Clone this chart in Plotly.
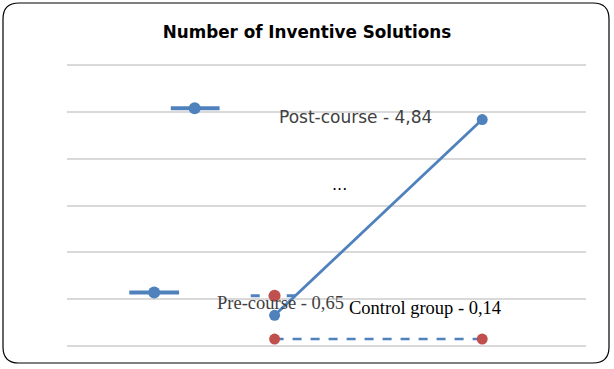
import plotly.graph_objects as go

# Data
stages_x = [2, 4]                 # x positions (pre, post)
experimental = [0.65, 4.84]       # blue line: pre-course -> post-course
control = [0.14, 0.14]            # control group
y_ticks = [0, 1, 2, 3, 4, 5, 6]

# legend-like key samples (in data units)
key_blue_x = [1.0, 1.47]
key_blue_y = [5.08, 5.08]
key_blue2_x = [0.6, 1.08]
key_blue2_y = [1.14, 1.14]
key_ctrl_x = [1.77, 2.2]
key_ctrl_y = [1.07, 1.07]
key_blue_mx = [1.23, 0.84]
key_blue_my = [5.08, 1.14]
key_ctrl_mx = [2.0]
key_ctrl_my = [1.07]

labels = ["Post-course - 4,84", "...", "Pre-course - 0,65", "Control group - 0,14"]
label_x = [2.78, 2.63, 2.06, 3.45]
label_y = [4.89, 3.46, 0.92, 0.81]

BLUE = "#4f81bd"
RED = "#c0504d"

fig = go.Figure()
fig.add_trace(go.Scatter(x=stages_x, y=control, mode="lines+markers",
                         line=dict(color=BLUE, width=2.5, dash="dash"),
                         marker=dict(color=RED, size=11, opacity=1, line=dict(width=0))))
fig.add_trace(go.Scatter(x=stages_x, y=experimental, mode="lines+markers",
                         line=dict(color=BLUE, width=2.8),
                         marker=dict(color=BLUE, size=11, opacity=1, line=dict(width=0))))
fig.add_trace(go.Scatter(x=key_blue_x, y=key_blue_y, mode="lines",
                         line=dict(color=BLUE, width=4)))
fig.add_trace(go.Scatter(x=key_blue2_x, y=key_blue2_y, mode="lines",
                         line=dict(color=BLUE, width=4)))
fig.add_trace(go.Scatter(x=key_ctrl_x, y=key_ctrl_y, mode="lines",
                         line=dict(color=BLUE, width=3, dash="dash")))
fig.add_trace(go.Scatter(x=key_blue_mx, y=key_blue_my, mode="markers",
                         marker=dict(color=BLUE, size=12, opacity=1, line=dict(width=0))))
fig.add_trace(go.Scatter(x=key_ctrl_mx, y=key_ctrl_my, mode="markers",
                         marker=dict(color=RED, size=12, opacity=1, line=dict(width=0))))

SANS = "Tahoma, DejaVu Sans, Verdana, sans-serif"
SERIF = "Times New Roman, Liberation Serif, serif"
fonts = [
    dict(family=SANS, size=17, color="#404040"),
    dict(family=SANS, size=16, color="#000000"),
    dict(family=SERIF, size=18.5, color="#404040"),
    dict(family=SERIF, size=18.5, color="#000000"),
]
for t, x, y, f in zip(labels, label_x, label_y, fonts):
    fig.add_annotation(x=x, y=y, text=t, showarrow=False, font=f,
                       xanchor="center", yanchor="middle")

# plot area (pixels)
L, R, T, B = 67, 586, 63, 348
W, H = R - L, B - T
def px(x): return (x - L) / W
def py(y): return (B - y) / H
x0, x1, y0, y1, r = 3, 609, 3, 363, 16
path = (f"M {px(x0+r)},{py(y0)} L {px(x1-r)},{py(y0)} "
        f"Q {px(x1)},{py(y0)} {px(x1)},{py(y0+r)} "
        f"L {px(x1)},{py(y1-r)} Q {px(x1)},{py(y1)} {px(x1-r)},{py(y1)} "
        f"L {px(x0+r)},{py(y1)} Q {px(x0)},{py(y1)} {px(x0)},{py(y1-r)} "
        f"L {px(x0)},{py(y0+r)} Q {px(x0)},{py(y0)} {px(x0+r)},{py(y0)} Z")
fig.add_shape(type="path", path=path, xref="paper", yref="paper",
              line=dict(color="#000000", width=1.2), layer="above")

fig.update_layout(
    width=614, height=369,
    margin=dict(l=L, r=614 - R, t=T, b=369 - B, pad=0),
    paper_bgcolor="white", plot_bgcolor="white",
    showlegend=False,
    title=dict(text="<b>Number of Inventive Solutions</b>", x=0.5, xanchor="center",
               y=1 - 32 / 369, yanchor="middle",
               font=dict(family=SANS, size=16.8, color="#000000")),
    xaxis=dict(range=[0, 5], showgrid=False, zeroline=False, showticklabels=False,
               showline=False),
    yaxis=dict(range=[-0.05, 6.05], tickvals=y_ticks, showgrid=True, gridcolor="#d9d9d9",
               gridwidth=1.5, zeroline=False, showticklabels=False, showline=False),
)

fig.write_html("out.html", config={"displayModeBar": False},
               post_script="document.body.style.margin='0';document.body.style.overflow='hidden';")
